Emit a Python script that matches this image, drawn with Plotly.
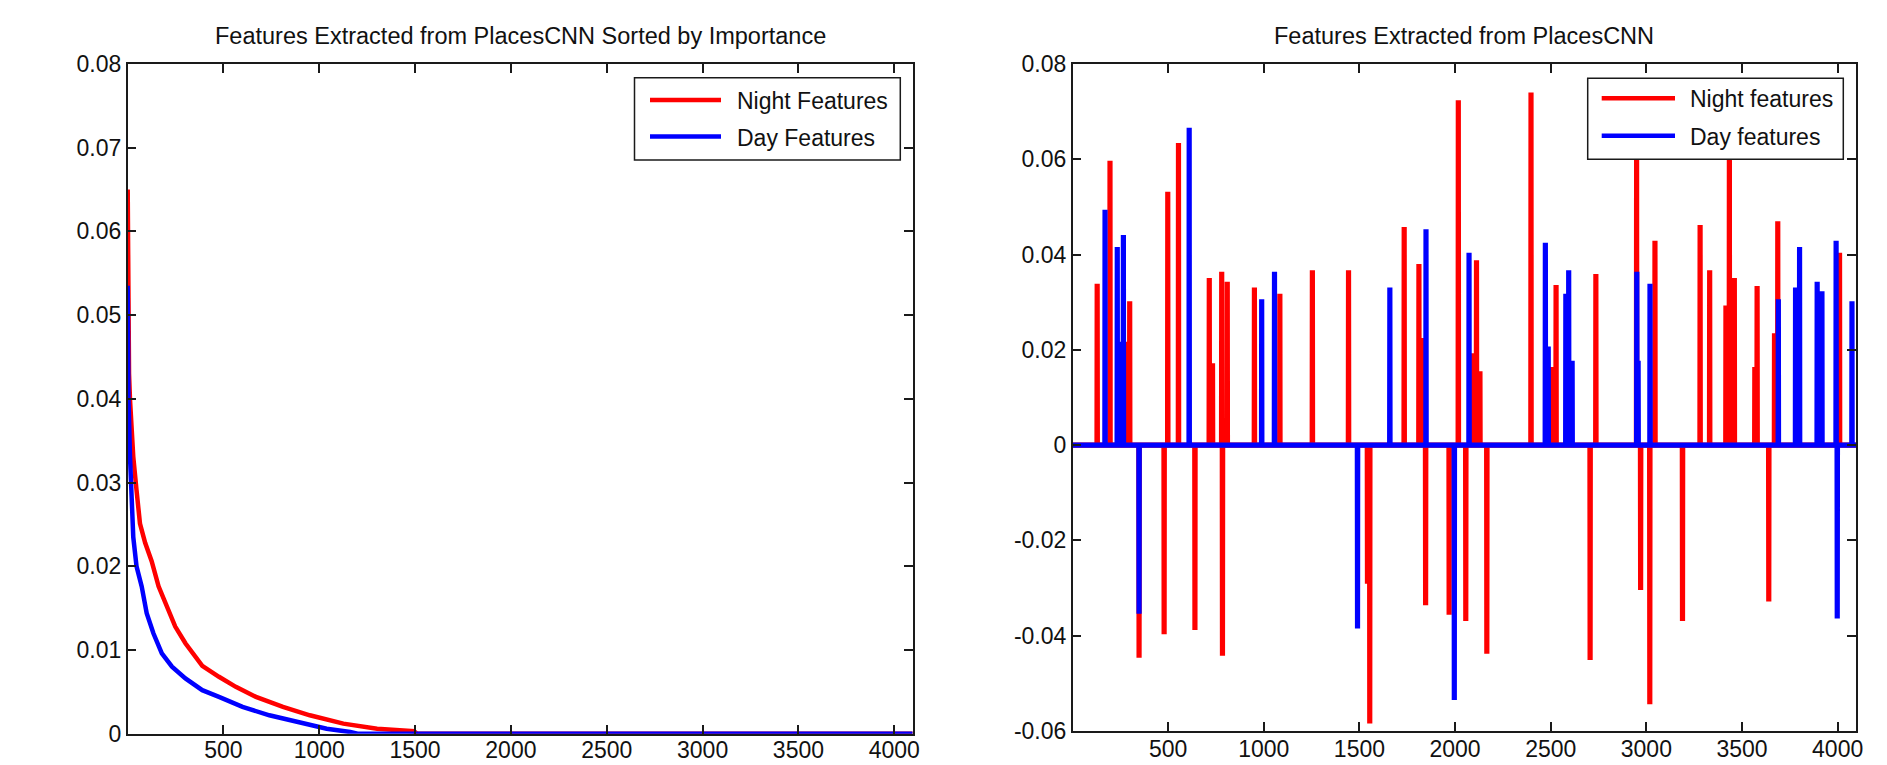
import plotly.graph_objects as go

W, H = 1887, 765

# ---------------- Left panel: features sorted by importance ----------------
night_sorted_x = [1, 4, 8, 13, 20, 30, 47, 65, 92, 126, 162, 205, 249, 302, 355, 390,
                  477, 565, 670, 811, 951, 1126, 1302, 1495, 1510, 4096]
night_sorted_y = [0.0650, 0.0500, 0.0430, 0.0399, 0.0360, 0.0331, 0.0291, 0.0251, 0.0228,
                  0.0206, 0.0176, 0.0152, 0.0128, 0.0108, 0.0092, 0.0081, 0.0068, 0.0056,
                  0.0044, 0.0032, 0.0022, 0.0012, 0.0006, 0.0003, 0.0, 0.0]
day_sorted_x = [1, 5, 13, 21, 30, 47, 74, 100, 135, 179, 232, 302, 390, 477, 600, 740,
                881, 1039, 1162, 1200, 4096]
day_sorted_y = [0.0535, 0.0400, 0.0331, 0.0279, 0.0235, 0.0200, 0.0176, 0.0144, 0.0120,
                0.0096, 0.0080, 0.0066, 0.0052, 0.0044, 0.0032, 0.0022, 0.0014, 0.0006,
                0.0002, 0.0, 0.0]

# ---------------- Right panel: sparse feature weights ----------------
n_features = 4096
night_idx = [129, 196, 280, 299, 348, 479, 498, 554, 640, 715, 732, 780, 784, 809, 951,
             1084, 1254, 1443, 1542, 1554, 1734, 1811, 1829, 1846, 1969, 2017, 2056, 2093,
             2112, 2130, 2166, 2397, 2507, 2528, 2706, 2736, 2949, 2970, 3018, 3045, 3189,
             3281, 3331, 3416, 3434, 3460, 3567, 3579, 3640, 3670, 3687, 4010]
night_val = [0.0339, 0.0597, 0.0217, 0.0302, -0.0446, -0.0397, 0.0532, 0.0634, -0.0388,
             0.0351, 0.0172, 0.0364, -0.0442, 0.0343, 0.0331, 0.0318, 0.0367, 0.0367,
             -0.0291, -0.0584, 0.0458, 0.0380, 0.0225, -0.0336, -0.0356, 0.0724, -0.0369,
             0.0193, 0.0388, 0.0155, -0.0438, 0.0740, 0.0164, 0.0336, -0.0451, 0.0359,
             0.0620, -0.0304, -0.0544, 0.0429, -0.0369, 0.0462, 0.0367, 0.0293, 0.0610,
             0.0351, 0.0164, 0.0334, -0.0328, 0.0235, 0.0470, 0.0404]
day_idx = [170, 234, 252, 266, 348, 610, 989, 1056, 1490, 1659, 1848, 1996, 2073, 2472,
           2487, 2579, 2594, 2612, 2950, 2957, 3019, 3690, 3780, 3801, 3893, 3918, 3992,
           3998, 4075]
day_val = [0.0494, 0.0416, 0.0217, 0.0441, -0.0354, 0.0666, 0.0306, 0.0364, -0.0385,
           0.0331, 0.0453, -0.0535, 0.0404, 0.0425, 0.0207, 0.0318, 0.0367, 0.0177,
           0.0364, 0.0177, 0.0339, 0.0306, 0.0331, 0.0416, 0.0343, 0.0323, 0.0429,
           -0.0364, 0.0302]

left_yticks = [0, 0.01, 0.02, 0.03, 0.04, 0.05, 0.06, 0.07, 0.08]
left_ytext = ["0", "0.01", "0.02", "0.03", "0.04", "0.05", "0.06", "0.07", "0.08"]
right_yticks = [-0.06, -0.04, -0.02, 0, 0.02, 0.04, 0.06, 0.08]
right_ytext = ["-0.06", "-0.04", "-0.02", "0", "0.02", "0.04", "0.06", "0.08"]
xticks = [500, 1000, 1500, 2000, 2500, 3000, 3500, 4000]
xtext = [str(v) for v in xticks]

title_left = "Features Extracted from PlacesCNN Sorted by Importance"
title_right = "Features Extracted from PlacesCNN"
legend_left = ["Night Features", "Day Features"]
legend_right = ["Night features", "Day features"]

RED, BLUE = "#ff0000", "#0000ff"
LW = 4.5
SPIKE_LW = 5.2
TICKFONT = dict(family="Liberation Sans, Arial, sans-serif", size=23, color="#111111")
TITLEFONT = dict(family="Liberation Sans, Arial, sans-serif", size=23.5, color="#111111")


def spike_line(idx, val, n):
    pairs = sorted(zip(idx, val))
    xs, ys = [1], [0.0]
    for p, v in pairs:
        xs += [p - 1, p, p + 1]
        ys += [0.0, v, 0.0]
    xs.append(n)
    ys.append(0.0)
    return xs, ys


fig = go.Figure()
fig.add_trace(go.Scatter(x=night_sorted_x, y=night_sorted_y, mode="lines", name=legend_left[0],
                         line=dict(color=RED, width=LW), xaxis="x", yaxis="y", showlegend=False))
fig.add_trace(go.Scatter(x=day_sorted_x, y=day_sorted_y, mode="lines", name=legend_left[1],
                         line=dict(color=BLUE, width=LW), xaxis="x", yaxis="y", showlegend=False))
nx, ny = spike_line(night_idx, night_val, n_features)
dx, dy = spike_line(day_idx, day_val, n_features)
fig.add_trace(go.Scatter(x=nx, y=ny, mode="lines", name=legend_right[0],
                         line=dict(color=RED, width=SPIKE_LW, simplify=False), xaxis="x2",
                         yaxis="y2", showlegend=False))
fig.add_trace(go.Scatter(x=dx, y=dy, mode="lines", name=legend_right[1],
                         line=dict(color=BLUE, width=SPIKE_LW, simplify=False), xaxis="x2",
                         yaxis="y2", showlegend=False))


def px(x):
    return x / W


def py(y):
    return 1 - y / H


axis_style = dict(showline=True, linecolor="#1a1a1a", linewidth=1.5, mirror="ticks",
                  ticks="inside", ticklen=9, tickwidth=1.5, tickcolor="#1a1a1a",
                  showgrid=False, zeroline=False, tickfont=TICKFONT, automargin=False)

fig.update_layout(
    template="none",
    width=W, height=H, margin=dict(l=0, r=0, t=0, b=0, pad=0, autoexpand=False),
    paper_bgcolor="white", plot_bgcolor="white", showlegend=False,
    xaxis=dict(domain=[px(127.7), px(912.7)], range=[1, n_features], tickvals=xticks,
               ticktext=xtext, anchor="y", ticklabelstandoff=-5, **axis_style),
    yaxis=dict(domain=[py(733.7), py(64)], range=[0, 0.08], tickvals=left_yticks,
               ticktext=left_ytext, anchor="x", **axis_style),
    xaxis2=dict(domain=[px(1072.7), px(1856)], range=[1, n_features], tickvals=xticks,
                ticktext=xtext, anchor="y2", ticklabelstandoff=-3, **axis_style),
    yaxis2=dict(domain=[py(731), py(64)], range=[-0.06, 0.08], tickvals=right_yticks,
                ticktext=right_ytext, anchor="x2", **axis_style),
)

annotations = [
    dict(text=title_left, x=px((127.7 + 912.7) / 2), y=py(36), xref="paper", yref="paper",
         xanchor="center", yanchor="middle", showarrow=False, font=TITLEFONT),
    dict(text=title_right, x=px((1072.7 + 1856) / 2), y=py(36), xref="paper", yref="paper",
         xanchor="center", yanchor="middle", showarrow=False, font=TITLEFONT),
]
shapes = []

# legend boxes (left and right panels)
legend_specs = [
    (legend_left, 634.5, 900.3, 77.7, 160, 650, 721, 735, [100, 136.6]),
    (legend_right, 1587.7, 1843.3, 78.3, 159.3, 1601.7, 1675, 1688, [98.3, 135.7]),
]
for labels, bx0, bx1, by0, by1, lx0, lx1, tx, rows in legend_specs:
    shapes.append(dict(type="rect", xref="paper", yref="paper", x0=px(bx0), x1=px(bx1),
                       y0=py(by1), y1=py(by0), line=dict(color="#1a1a1a", width=1.5),
                       fillcolor="white", layer="above"))
    for label, color, ry in zip(labels, [RED, BLUE], rows):
        shapes.append(dict(type="line", xref="paper", yref="paper", x0=px(lx0), x1=px(lx1),
                           y0=py(ry), y1=py(ry), line=dict(color=color, width=LW),
                           layer="above"))
        annotations.append(dict(text=label, x=px(tx), y=py(ry + 1), xref="paper", yref="paper",
                                xanchor="left", yanchor="middle", showarrow=False,
                                font=TICKFONT))

fig.update_layout(annotations=annotations, shapes=shapes)

fig.write_html("out.html", config={"displayModeBar": False},
               post_script="document.body.style.margin='0';document.body.style.overflow='hidden';")
